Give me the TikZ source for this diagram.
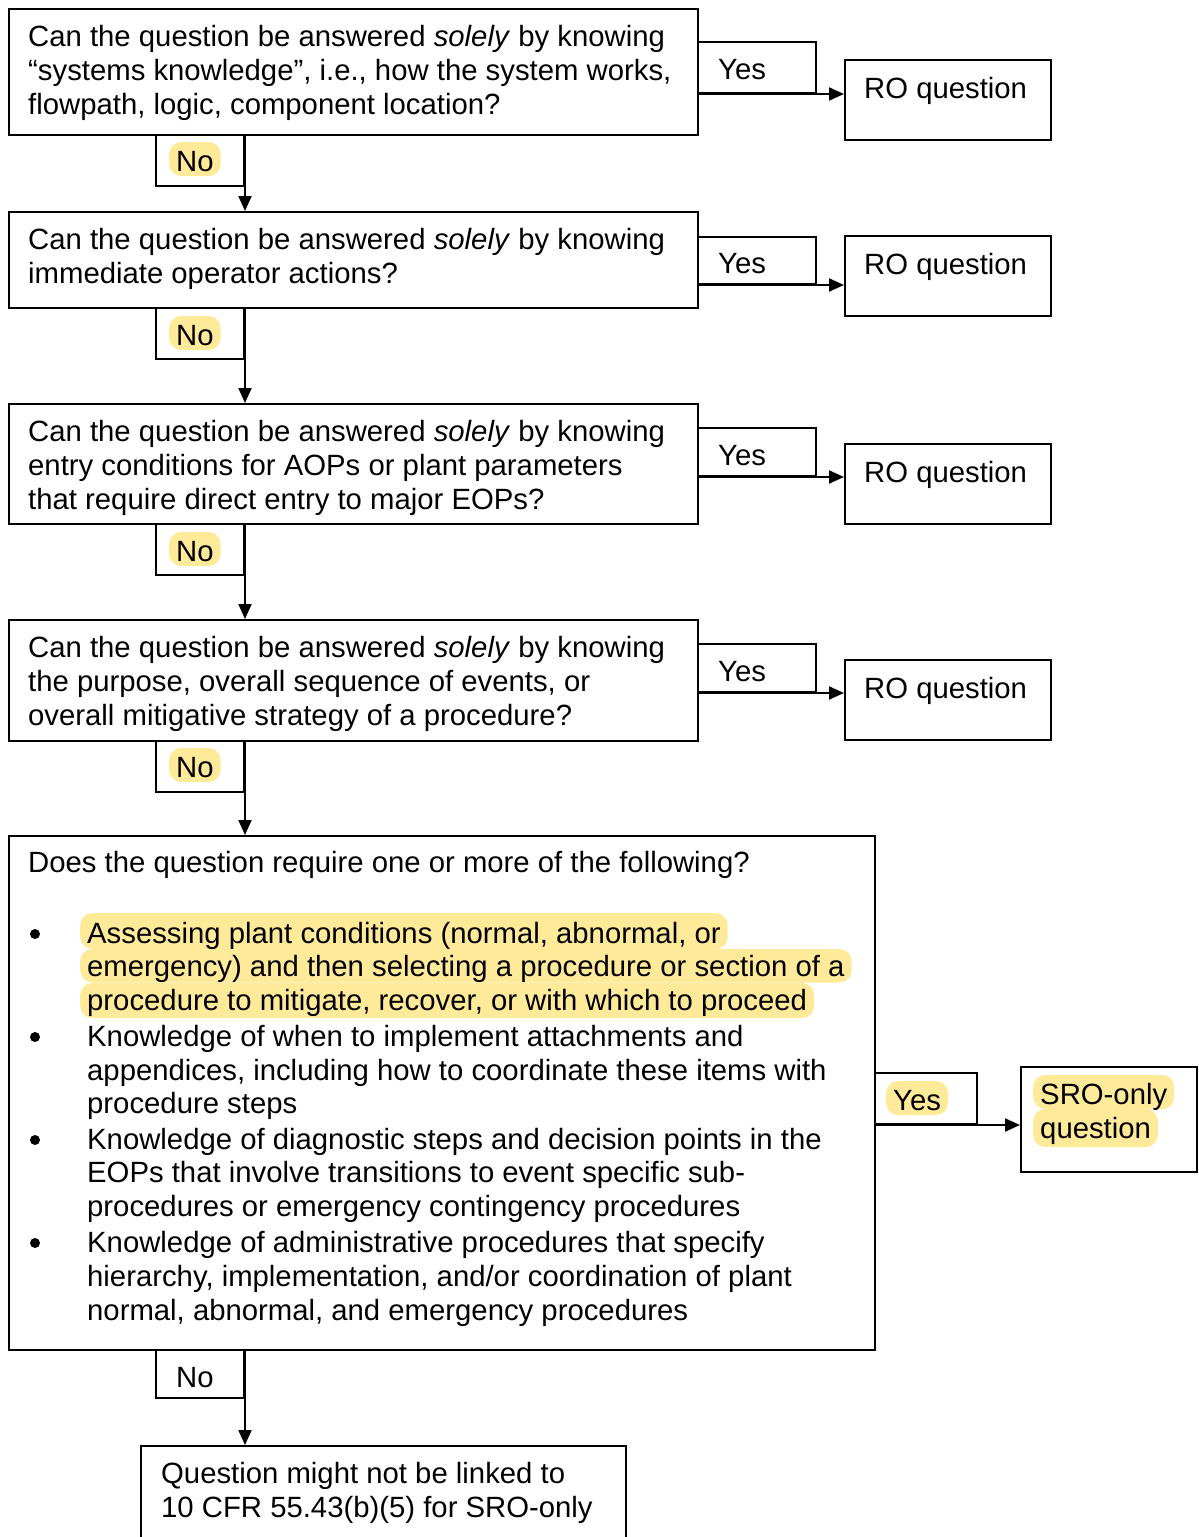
\documentclass[tikz,border=0pt]{standalone}
\usepackage{fontspec}
\setmainfont{Liberation Sans}
\usetikzlibrary{arrows.meta}
\definecolor{hlyellow}{RGB}{255,234,153}
\begin{document}
\begin{tikzpicture}[x=1pt,y=-1pt,
  every node/.style={font=\fontsize{29.3}{34}\selectfont},
  frame/.style={draw, line width=2pt, rectangle, anchor=north west, inner sep=0pt},
  txt/.style={anchor=base west, inner sep=0pt},
  hl/.style={anchor=base west, fill=hlyellow, rounded corners=12pt, inner xsep=7pt, inner ysep=0pt, text height=29pt, text depth=5pt},
  dot/.style={circle, fill=black, inner sep=0pt, minimum size=10pt},
  arr/.style={line width=2pt, -{Triangle[length=15pt,width=13pt]}}
]
\useasboundingbox (0,0) rectangle (1199,1537);

% question boxes
\node[frame, minimum width=689pt, minimum height=126pt] (q1) at (8,8) {};
\node[frame, minimum width=689pt, minimum height=96pt]  (q2) at (8,211) {};
\node[frame, minimum width=689pt, minimum height=120pt] (q3) at (8,403) {};
\node[frame, minimum width=689pt, minimum height=121pt] (q4) at (8,619) {};
\node[frame, minimum width=866pt, minimum height=514pt] (q5) at (8,835) {};
\node[frame, minimum width=485pt, minimum height=130pt] (qend) at (140,1445) {};

% result boxes
\node[frame, minimum width=206pt, minimum height=80pt] (ro1) at (844,59) {};
\node[frame, minimum width=206pt, minimum height=80pt] (ro2) at (844,235) {};
\node[frame, minimum width=206pt, minimum height=80pt] (ro3) at (844,443) {};
\node[frame, minimum width=206pt, minimum height=80pt] (ro4) at (844,659) {};
\node[frame, minimum width=176pt, minimum height=105pt] (sro) at (1020,1066) {};

% label frames on the branches
\node[frame, minimum width=118pt, minimum height=51pt] (y1) at (697,41) {};
\node[frame, minimum width=118pt, minimum height=47pt] (y2) at (697,236) {};
\node[frame, minimum width=118pt, minimum height=48pt] (y3) at (697,427) {};
\node[frame, minimum width=118pt, minimum height=48pt] (y4) at (697,643) {};
\node[frame, minimum width=102pt, minimum height=51pt] (y5) at (874,1072) {};
\node[frame, minimum width=88pt, minimum height=51pt] (n1) at (155,134) {};
\node[frame, minimum width=88pt, minimum height=51pt] (n2) at (155,307) {};
\node[frame, minimum width=88pt, minimum height=51pt] (n3) at (155,523) {};
\node[frame, minimum width=88pt, minimum height=51pt] (n4) at (155,740) {};
\node[frame, minimum width=88pt, minimum height=48pt] (n5) at (155,1349) {};

% Yes branches
\draw[arr] (y1.south west) -- (ro1.west |- y1.south);
\draw[arr] (y2.south west) -- (ro2.west |- y2.south);
\draw[arr] (y3.south west) -- (ro3.west |- y3.south);
\draw[arr] (y4.south west) -- (ro4.west |- y4.south);
\draw[arr] (y5.south west) -- (sro.west |- y5.south);
% No branches
\draw[arr] (n1.north east) -- (q2.north -| n1.east);
\draw[arr] (n2.north east) -- (q3.north -| n2.east);
\draw[arr] (n3.north east) -- (q4.north -| n3.east);
\draw[arr] (n4.north east) -- (q5.north -| n4.east);
\draw[arr] (n5.north east) -- (qend.north -| n5.east);

% question texts
\node[txt] (q1a) at (28,46) {Can the question be answered \textit{solely} by knowing};
\node[txt] (q1b) at (28,80) {“systems knowledge”, i.e., how the system works,};
\node[txt] (q1c) at (28,114) {flowpath, logic, component location?};

\node[txt] (q2a) at (28,249) {Can the question be answered \textit{solely} by knowing};
\node[txt] (q2b) at (28,283) {immediate operator actions?};

\node[txt] (q3a) at (28,441) {Can the question be answered \textit{solely} by knowing};
\node[txt] (q3b) at (28,475) {entry conditions for AOPs or plant parameters};
\node[txt] (q3c) at (28,509) {that require direct entry to major EOPs?};

\node[txt] (q4a) at (28,657) {Can the question be answered \textit{solely} by knowing};
\node[txt] (q4b) at (28,691) {the purpose, overall sequence of events, or};
\node[txt] (q4c) at (28,725) {overall mitigative strategy of a procedure?};

\node[txt] (q5h) at (28,872) {Does the question require one or more of the following?};

\node[dot] (d1) at (35,934) {};
\node[hl, text height=30pt, text depth=6pt] (b1a) at (80,943) {Assessing plant conditions (normal, abnormal, or};
\node[hl, text height=27pt, text depth=6.5pt] (b1b) at (80,976) {emergency) and then selecting a procedure or section of a};
\node[hl, text height=27pt, text depth=8pt] (b1c) at (80,1010) {procedure to mitigate, recover, or with which to proceed};

\node[dot] (d2) at (35,1037) {};
\node[txt] (b2a) at (87,1046) {Knowledge of when to implement attachments and};
\node[txt] (b2b) at (87,1080) {appendices, including how to coordinate these items with};
\node[txt] (b2c) at (87,1113) {procedure steps};

\node[dot] (d3) at (35,1140) {};
\node[txt] (b3a) at (87,1149) {Knowledge of diagnostic steps and decision points in the};
\node[txt] (b3b) at (87,1182) {EOPs that involve transitions to event specific sub-};
\node[txt] (b3c) at (87,1216) {procedures or emergency contingency procedures};

\node[dot] (d4) at (35,1243) {};
\node[txt] (b4a) at (87,1252) {Knowledge of administrative procedures that specify};
\node[txt] (b4b) at (87,1286) {hierarchy, implementation, and/or coordination of plant};
\node[txt] (b4c) at (87,1320) {normal, abnormal, and emergency procedures};

\node[txt] (enda) at (161,1483) {Question might not be linked to};
\node[txt] (endb) at (161,1517) {10 CFR 55.43(b)(5) for SRO-only};

% result texts
\node[txt] (ro1t) at (864,98) {RO question};
\node[txt] (ro2t) at (864,274) {RO question};
\node[txt] (ro3t) at (864,482) {RO question};
\node[txt] (ro4t) at (864,698) {RO question};
\node[hl] (sroa) at (1033,1104) {SRO-only};
\node[hl, text depth=9pt] (srob) at (1033,1138) {question};

% branch labels
\node[txt] (y1t) at (718,79) {Yes};
\node[txt] (y2t) at (718,273) {Yes};
\node[txt] (y3t) at (718,465) {Yes};
\node[txt] (y4t) at (718,681) {Yes};
\node[hl] (y5t) at (886,1110) {Yes};
\node[hl] (n1t) at (169,171) {No};
\node[hl] (n2t) at (169,345) {No};
\node[hl] (n3t) at (169,561) {No};
\node[hl] (n4t) at (169,777) {No};
\node[txt] (n5t) at (176,1387) {No};
\end{tikzpicture}
\end{document}
